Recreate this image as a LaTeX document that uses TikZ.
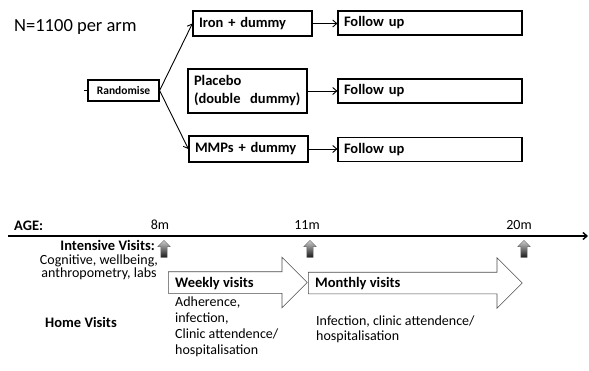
\documentclass[tikz,border=0pt]{standalone}
\usepackage{fontspec}
\setmainfont{Carlito}
\usetikzlibrary{shapes.arrows,arrows.meta}
\tikzset{box/.style={draw,rectangle,line width=1.2pt,inner xsep=6pt,inner ysep=0pt,align=left,font=\bfseries\fontsize{14.5}{18}\selectfont},
 arm/.style={box,text width=107pt},
 fup/.style={box,text width=172pt,minimum height=24pt},
 rnd/.style={draw,rectangle,line width=1.2pt,minimum width=71pt,minimum height=21pt,inner sep=0pt,font=\bfseries\fontsize{11.5}{13}\selectfont},
 link/.style={-{Straight Barb[length=4pt,width=7pt]},line width=0.9pt},
 visit/.style={single arrow,draw=black!70,fill=white,line width=0.6pt,inner xsep=0pt,inner ysep=10.5pt,minimum width=50pt,single arrow head extend=14.5pt,anchor=tail},
 uparr/.style={single arrow,shape border rotate=90,draw=black!60,line width=0.4pt,top color=black!20,bottom color=black!90,inner sep=3pt,minimum height=17pt,minimum width=12pt,single arrow head extend=3pt},
 lab/.style={inner sep=0pt,font=\fontsize{14}{13}\selectfont},
 blab/.style={inner sep=0pt,font=\bfseries\fontsize{14.5}{13}\selectfont}}

\begin{document}
\begin{tikzpicture}[x=1pt,y=-1pt]
\useasboundingbox (0,0) rectangle (589,370);
% trial arms
\node[lab,anchor=base west,font=\fontsize{18.5}{20}\selectfont] (n) at (14,31.5) {N=1100 per arm};
\node[rnd] (rand) at (123.5,90.5) {Randomise};
\node[arm,minimum height=25pt] (iron) at (252.5,23.5) {Iron + dummy};
\node[arm,minimum height=44pt] (plac) at (247.5,91) {Placebo\\(double\ \ dummy)};
\node[arm,minimum height=26pt] (mmp) at (248.5,149) {MMPs + dummy};
\node[fup] (f1) at (430,23) {Follow up};
\node[fup] (f2) at (430,91) {Follow up};
\node[fup] (f3) at (430,149.5) {Follow up};
\draw[line width=0.8pt] (rand.west) -- ++(-3,0);
\draw[link] (rand.east) -- (iron.west);
\draw[link] (rand.east) -- (mmp.west);
\draw[link] (iron.east) -- (iron.east -| f1.west);
\draw[link] (plac.east) -- (plac.east -| f2.west);
\draw[link] (mmp.east) -- (mmp.east -| f3.west);
% timeline
\coordinate (t0) at (8,236);
\coordinate (t1) at (588,236);
\draw[-{Straight Barb[length=4pt,width=7pt]},line width=1.4pt] (t0) -- (t1);
\node[blab,anchor=base west] (age) at (14,230) {AGE:};
\node[lab,anchor=base] (m8) at (160,229) {8m};
\node[lab,anchor=base] (m11) at (307,229) {11m};
\node[lab,anchor=base] (m20) at (519,229) {20m};
\node[uparr] (u8) at (164,250.5) {};
\node[uparr] (u11) at (310,250.5) {};
\node[uparr] (u20) at (524,250.5) {};
% visits (base of a multi-line node = its last line)
\node[blab,anchor=base east] (iv) at (155,250) {Intensive Visits:};
\node[lab,anchor=base,align=center] (ivt) at (99,277) {Cognitive, wellbeing,\\anthropometry, labs};
\node[visit,minimum height=139pt] (wa) at (168,282.5) {};
\node[visit,minimum height=214pt] (ma) at (308,283) {};
\node[blab,anchor=base west] (wk) at (175,287) {Weekly visits};
\node[lab,anchor=base west,align=left,font=\fontsize{14}{16}\selectfont] (wkt) at (175,354) {Adherence,\\infection,\\Clinic attendence/\\hospitalisation};
\node[blab,anchor=base west] (mo) at (315,287) {Monthly visits};
\node[lab,anchor=base west,align=left,font=\fontsize{14}{15}\selectfont] (mot) at (316,340) {Infection, clinic attendence/\\hospitalisation};
\node[blab,anchor=base west] (hv) at (45,327) {Home Visits};
\end{tikzpicture}
\end{document}
